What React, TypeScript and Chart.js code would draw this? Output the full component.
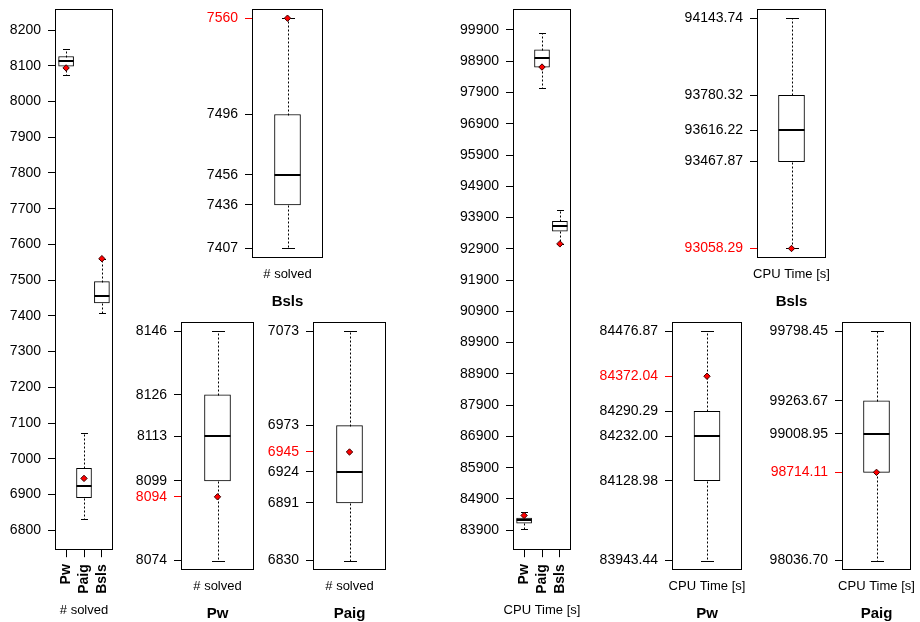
import React, { useEffect, useRef } from 'react';
import { Chart, registerables } from 'chart.js';

Chart.register(...registerables);

const FONT = '"Liberation Sans", Arial, Helvetica, sans-serif';
Chart.defaults.font.family = FONT;
Chart.defaults.color = '#000';

// ---------- data ----------
const groups = ['Pw', 'Paig', 'Bsls'];

const solvedMin = [8074, 6830, 7407];
const solvedQ1 = [8099, 6891, 7436];
const solvedMedian = [8113, 6924, 7456];
const solvedQ3 = [8126, 6973, 7496];
const solvedMax = [8146, 7073, 7560];
const solvedMean = [8094, 6945, 7560];

const cpuMin = [83943.44, 98036.7, 93058.29];
const cpuQ1 = [84128.98, 98714.11, 93467.87];
const cpuMedian = [84232.0, 99008.95, 93616.22];
const cpuQ3 = [84290.29, 99263.67, 93780.32];
const cpuMax = [84476.87, 99798.45, 94143.74];
const cpuMean = [84372.04, 98714.11, 93058.29];

const solvedAxisTicks = [6800, 6900, 7000, 7100, 7200, 7300, 7400, 7500, 7600, 7700, 7800, 7900, 8000, 8100, 8200];
const cpuAxisTicks = [83900, 84900, 85900, 86900, 87900, 88900, 89900, 90900, 91900, 92900, 93900, 94900, 95900, 96900, 97900, 98900, 99900];

const solvedAxisRange: [number, number] = [6744, 8259];
const cpuAxisRange: [number, number] = [83261, 100571];

// ---------- helpers ----------
type Stats = { min: number[]; q1: number[]; median: number[]; q3: number[]; max: number[]; mean: number[] };
const solvedStats: Stats = { min: solvedMin, q1: solvedQ1, median: solvedMedian, q3: solvedQ3, max: solvedMax, mean: solvedMean };
const cpuStats: Stats = { min: cpuMin, q1: cpuQ1, median: cpuMedian, q3: cpuQ3, max: cpuMax, mean: cpuMean };

const RED = '#ff0000';
const PAD_TOP = 4;

type PanelSpec = {
  id: string;
  stats: Stats;
  groupIdx: number[];
  xPos: number[];
  xRange: [number, number];
  yRange: [number, number];
  yTicks: number[];
  redTicks: number[];
  decimals: number;
  xLabels: string[] | null;
  xTitle: string;
  title: string | null;
  plot: { left: number; top: number; width: number; height: number };
  yAxisWidth: number;
  boxWidth: number;
  capWidth: number;
};

function padRange(lo: number, hi: number): [number, number] {
  const r = hi - lo;
  return [lo - 0.04 * r, hi + 0.04 * r];
}

function uniq(vals: number[]) {
  const out: number[] = [];
  vals.forEach((v) => {
    if (!out.some((o) => Math.abs(o - v) < 1e-6)) out.push(v);
  });
  return out.sort((a, b) => a - b);
}

function overview(id: string, stats: Stats, ticks: number[], range: [number, number], xTitle: string, left: number, yAxisWidth: number): PanelSpec {
  return {
    id,
    stats,
    groupIdx: [0, 1, 2],
    xPos: [1, 2, 3],
    xRange: [0.38, 3.62],
    yRange: range,
    yTicks: ticks,
    redTicks: [],
    decimals: 0,
    xLabels: groups,
    xTitle,
    title: null,
    plot: { left, top: 8, width: 58, height: 542 },
    yAxisWidth,
    boxWidth: 15,
    capWidth: 7,
  };
}

function detail(id: string, stats: Stats, g: number, decimals: number, xTitle: string, plot: { left: number; top: number; width: number; height: number }, yAxisWidth: number): PanelSpec {
  const s = stats;
  return {
    id,
    stats,
    groupIdx: [g],
    xPos: [1],
    xRange: [0.46, 1.54],
    yRange: padRange(s.min[g], s.max[g]),
    yTicks: uniq([s.min[g], s.q1[g], s.median[g], s.q3[g], s.max[g], s.mean[g]]),
    redTicks: [s.mean[g]],
    decimals,
    xLabels: null,
    xTitle,
    title: groups[g],
    plot,
    yAxisWidth,
    boxWidth: 26,
    capWidth: 13,
  };
}

const panels: PanelSpec[] = [
  overview('solved-all', solvedStats, solvedAxisTicks, solvedAxisRange, '# solved', 55, 55),
  detail('solved-bsls', solvedStats, 2, 0, '# solved', { left: 252, top: 8, width: 71, height: 249 }, 60),
  detail('solved-pw', solvedStats, 0, 0, '# solved', { left: 181, top: 321, width: 73, height: 248 }, 60),
  detail('solved-paig', solvedStats, 1, 0, '# solved', { left: 313, top: 321, width: 73, height: 248 }, 60),
  overview('cpu-all', cpuStats, cpuAxisTicks, cpuAxisRange, 'CPU Time [s]', 513, 70),
  detail('cpu-bsls', cpuStats, 2, 2, 'CPU Time [s]', { left: 757, top: 8, width: 69, height: 249 }, 90),
  detail('cpu-pw', cpuStats, 0, 2, 'CPU Time [s]', { left: 672, top: 321, width: 70, height: 248 }, 90),
  detail('cpu-paig', cpuStats, 1, 2, 'CPU Time [s]', { left: 842, top: 321, width: 69, height: 248 }, 90),
];

// layout constants (px)
const OVERVIEW_X_AXIS_HEIGHT = 50;
const SUBTITLE_PAD_OVERVIEW = 2.2;
const SUBTITLE_PAD_DETAIL = 9.2;
const TITLE_PAD_DETAIL = 10.5;
const SUB_LINE = 13 * 1.2;
const TITLE_LINE = 15 * 1.2;

// ---------- plugins ----------
const whiskerPlugin = {
  id: 'whiskers',
  afterDatasetDraw(chart: any, args: any) {
    if (args.index !== 0) return;
    const ds: any = chart.data.datasets[0];
    const yScale = chart.scales.y;
    const ctx = chart.ctx as CanvasRenderingContext2D;
    const cap = ds.capWidth as number;
    args.meta.data.forEach((el: any, i: number) => {
      const w = ds.whiskers[i];
      const cx = Math.round(el.x) + 0.5;
      const py = (v: number) => Math.round(yScale.getPixelForValue(v)) + 0.5;
      const yMin = py(w.min);
      const yQ1 = py(w.q1);
      const yQ3 = py(w.q3);
      const yMax = py(w.max);
      const yMed = Math.round(yScale.getPixelForValue(w.median));
      ctx.save();
      ctx.strokeStyle = '#000';
      ctx.lineWidth = 1;
      ctx.setLineDash([2, 2]);
      ctx.beginPath();
      if (yMax < yQ3) {
        ctx.moveTo(cx, yQ3);
        ctx.lineTo(cx, yMax);
      }
      if (yMin > yQ1) {
        ctx.moveTo(cx, yQ1);
        ctx.lineTo(cx, yMin);
      }
      ctx.stroke();
      ctx.setLineDash([]);
      ctx.beginPath();
      ctx.moveTo(cx - cap / 2, yMax);
      ctx.lineTo(cx + cap / 2, yMax);
      ctx.moveTo(cx - cap / 2, yMin);
      ctx.lineTo(cx + cap / 2, yMin);
      ctx.stroke();
      ctx.lineWidth = 2;
      ctx.beginPath();
      ctx.moveTo(el.x - el.width / 2, yMed);
      ctx.lineTo(el.x + el.width / 2, yMed);
      ctx.stroke();
      ctx.restore();
    });
  },
};

const framePlugin = {
  id: 'frame',
  afterDraw(chart: any) {
    const { ctx, chartArea: a } = chart;
    ctx.save();
    ctx.strokeStyle = '#000';
    ctx.lineWidth = 1;
    ctx.setLineDash([]);
    ctx.strokeRect(Math.round(a.left) + 0.5, Math.round(a.top) + 0.5, Math.round(a.right - a.left) - 1, Math.round(a.bottom - a.top) - 1);
    ctx.restore();
  },
};

function canvasBox(s: PanelSpec) {
  const left = s.plot.left - s.yAxisWidth;
  const top = s.plot.top - PAD_TOP;
  const width = s.yAxisWidth * 2 + s.plot.width;
  const below = s.xLabels
    ? OVERVIEW_X_AXIS_HEIGHT + SUBTITLE_PAD_OVERVIEW + SUB_LINE
    : SUBTITLE_PAD_DETAIL + SUB_LINE + TITLE_PAD_DETAIL + TITLE_LINE;
  const height = Math.ceil(PAD_TOP + s.plot.height + below);
  return { left, top, width, height };
}

function buildConfig(s: PanelSpec): any {
  const st = s.stats;
  const isOverview = !!s.xLabels;
  const isRed = (v: any) => typeof v === 'number' && s.redTicks.some((r) => Math.abs(r - v) < 1e-6);
  return {
    type: 'bar',
    data: {
      datasets: [
        {
          type: 'bar',
          data: s.groupIdx.map((g, k) => ({ x: s.xPos[k], y: [st.q1[g], st.q3[g]] })),
          backgroundColor: '#ffffff',
          borderColor: '#000000',
          borderWidth: 1,
          borderSkipped: false,
          barThickness: s.boxWidth,
          capWidth: s.capWidth,
          whiskers: s.groupIdx.map((g) => ({ min: st.min[g], q1: st.q1[g], median: st.median[g], q3: st.q3[g], max: st.max[g] })),
          order: 1,
        },
        {
          type: 'scatter',
          data: s.groupIdx.map((g, k) => ({ x: s.xPos[k], y: st.mean[g] })),
          pointStyle: 'rectRot',
          pointRadius: 3.2,
          backgroundColor: RED,
          borderColor: '#3a0000',
          borderWidth: 1,
          order: 0,
        },
      ],
    },
    options: {
      responsive: false,
      animation: false,
      events: [],
      layout: { padding: { top: PAD_TOP, right: 0, left: 0, bottom: 0 } },
      plugins: {
        legend: { display: false },
        tooltip: { enabled: false },
        subtitle: {
          display: true,
          text: s.xTitle,
          position: 'bottom',
          font: { size: 13, weight: 'normal', family: FONT },
          color: '#000',
          padding: { top: isOverview ? SUBTITLE_PAD_OVERVIEW : SUBTITLE_PAD_DETAIL, bottom: 0 },
        },
        title: {
          display: !!s.title,
          text: s.title ?? '',
          position: 'bottom',
          font: { size: 15, weight: 'bold', family: FONT },
          color: '#000',
          padding: { top: TITLE_PAD_DETAIL, bottom: 0 },
        },
      },
      scales: {
        x: {
          type: 'linear',
          display: isOverview,
          min: s.xRange[0],
          max: s.xRange[1],
          offset: false,
          bounds: 'data',
          afterBuildTicks: (sc: any) => {
            sc.ticks = s.xPos.map((v) => ({ value: v }));
          },
          afterFit: (sc: any) => {
            if (isOverview) sc.height = OVERVIEW_X_AXIS_HEIGHT;
            sc.paddingLeft = 0;
            sc.paddingRight = 0;
          },
          grid: { display: isOverview, offset: false, drawOnChartArea: false, drawTicks: true, tickLength: 7, color: '#000', lineWidth: 1 },
          border: { display: false },
          ticks: {
            display: isOverview,
            autoSkip: false,
            minRotation: 90,
            maxRotation: 90,
            padding: 7,
            font: { size: 14, weight: 'bold', family: FONT },
            color: '#000',
            callback: (_v: any, i: number) => (s.xLabels ? s.xLabels[i] : ''),
          },
        },
        y: {
          type: 'linear',
          position: 'left',
          min: s.yRange[0],
          max: s.yRange[1],
          bounds: 'data',
          afterBuildTicks: (sc: any) => {
            sc.ticks = s.yTicks.map((v) => ({ value: v }));
          },
          afterFit: (sc: any) => {
            sc.width = s.yAxisWidth;
            sc.paddingTop = 0;
            sc.paddingBottom = 0;
          },
          grid: {
            offset: false,
            drawOnChartArea: false,
            drawTicks: true,
            tickLength: 7,
            lineWidth: 1,
            color: (ctx: any) => (isRed(ctx.tick && ctx.tick.value) ? RED : '#000'),
          },
          border: { display: false },
          ticks: {
            autoSkip: false,
            padding: 7,
            font: { size: 14, family: FONT },
            color: (ctx: any) => (isRed(ctx.tick && ctx.tick.value) ? RED : '#000'),
            callback: (v: any) => Number(v).toFixed(s.decimals),
          },
        },
        // invisible balancing axis on the right so that the bottom labels centre on the plot
        yBalance: {
          type: 'linear',
          position: 'right',
          display: true,
          grid: { display: false, drawTicks: false },
          border: { display: false },
          ticks: { display: false },
          afterFit: (sc: any) => {
            sc.width = s.yAxisWidth;
            sc.paddingTop = 0;
            sc.paddingBottom = 0;
          },
        },
      },
    },
    plugins: [whiskerPlugin, framePlugin],
  };
}

function Panel({ spec }: { spec: PanelSpec }) {
  const ref = useRef<HTMLCanvasElement>(null);
  useEffect(() => {
    if (!ref.current) return;
    const chart = new Chart(ref.current, buildConfig(spec));
    return () => chart.destroy();
  }, [spec]);
  const b = canvasBox(spec);
  return (
    <canvas
      ref={ref}
      width={b.width}
      height={b.height}
      style={{ position: 'absolute', left: b.left, top: b.top, width: b.width, height: b.height, display: 'block' }}
    />
  );
}

export default function App() {
  return (
    <div style={{ position: 'absolute', left: 0, top: 0, width: 920, height: 622, background: '#fff', overflow: 'hidden' }}>
      {panels.map((p) => (
        <Panel key={p.id} spec={p} />
      ))}
    </div>
  );
}
